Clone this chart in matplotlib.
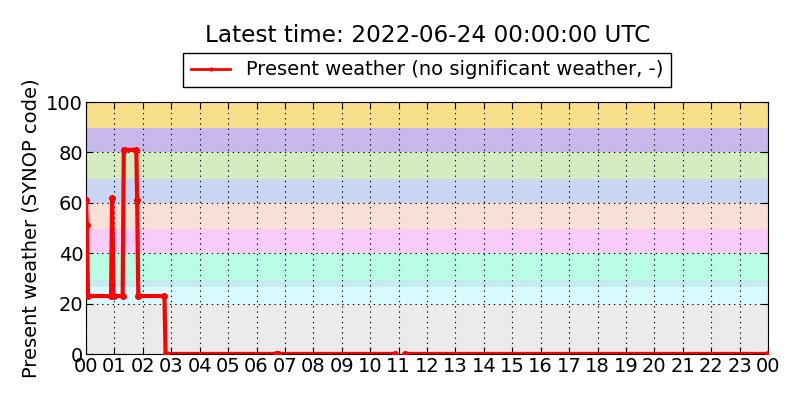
import numpy as np
import matplotlib
matplotlib.use('Agg')
import matplotlib.pyplot as plt

# Zeitpunkte (Stunden ab 00 UTC) und SYNOP-Code (NaN = keine Daten)
horas = [0.00, 0.03, 0.07, 0.88, 0.92, 0.97, 1.29, 1.33, 1.77, 1.80, 1.84,
         2.76, 2.80, 6.68, 6.70, 6.76, 10.88, 10.90, 11.24, 24.0]
codigo = [61, 51, 23, 23, 62, 23, 23, 81, 81, 61, 23,
          23, 0, 0, np.nan, 0, 0, np.nan, 0, 0]

# Farbbander nach SYNOP-Gruppen (unten, oben, Farbe)
bandas_inf = [0, 19.7, 26.7, 29.4, 40, 49.6, 60, 69.4, 80, 89.8]
bandas_sup = [19.7, 26.7, 29.4, 40, 49.6, 60, 69.4, 80, 89.8, 100]
bandas_col = ['#ebebeb', '#d9fafe', '#c4ecf1', '#b9fde4', '#f9cbf9',
              '#f8e0d6', '#c8d6f4', '#d4ecc0', '#c8b8ec', '#f8df8a']

etiquetas_x = ['%02d' % (h % 24) for h in range(25)]
titulo = 'Latest time: 2022-06-24 00:00:00 UTC'
leyenda = 'Present weather (no significant weather, -)'

fig = plt.figure(figsize=(8, 4), dpi=100)
ax = fig.add_axes([0.1075, 0.115, 0.8525, 0.63])

for lo, hi, c in zip(bandas_inf, bandas_sup, bandas_col):
    ax.axhspan(lo, hi, color=c, lw=0, zorder=0)

ax.plot(horas, codigo, color='red', lw=3, marker='o', ms=4, mec='red',
        label=leyenda, zorder=3)

ax.set_xlim(0, 24)
ax.set_ylim(0, 100)
ax.set_xticks(range(25))
ax.set_xticklabels(etiquetas_x)
ax.set_yticks([0, 20, 40, 60, 80, 100])
ax.tick_params(direction='in', top=True, right=True, labelsize=14, length=5, pad=2)
ax.grid(True, color='black', linestyle=(0, (1.2, 3.5)), linewidth=0.8)
ax.set_axisbelow(False)
ax.set_ylabel('Present weather (SYNOP code)', fontsize=14)

leg = ax.legend(loc='lower center', bbox_to_anchor=(0.5, 1.02), fontsize=14,
                fancybox=False, edgecolor='black', framealpha=1,
                handlelength=2.0, numpoints=1, markerscale=0.5)
leg.get_frame().set_linewidth(1.0)
leg.get_lines()[0].set_linewidth(2)

fig.text(0.534, 0.912, titulo, ha='center', va='center', fontsize=16.7)

fig.savefig('out.png', dpi=100)
